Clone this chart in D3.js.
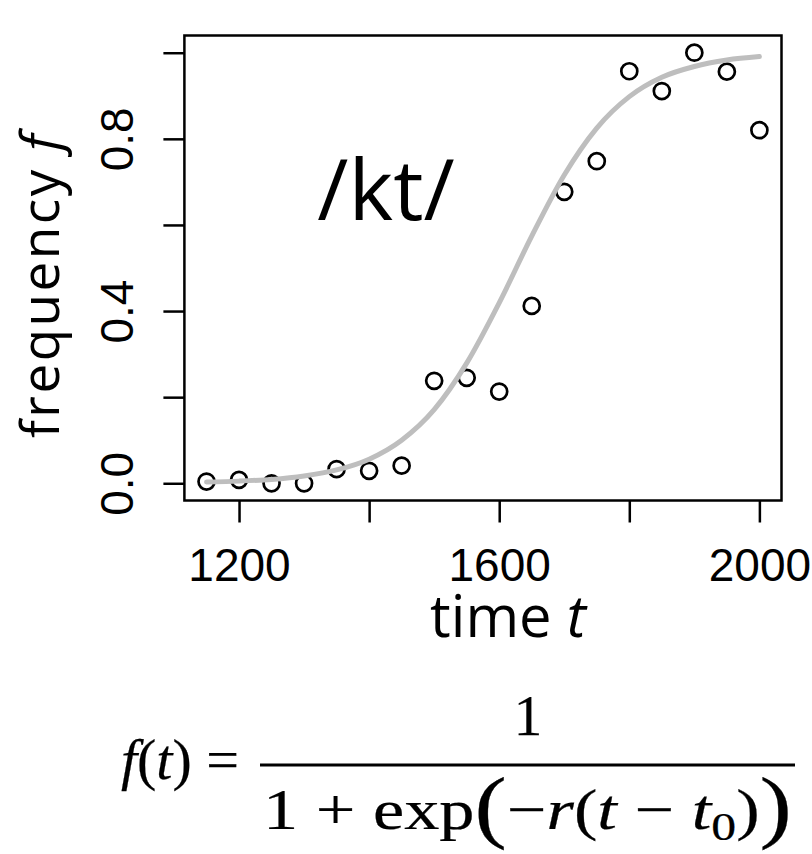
<!DOCTYPE html>
<html>
<head>
<meta charset="utf-8">
<script src="https://cdn.jsdelivr.net/npm/d3@7"></script>
<style>
body { margin: 0; background: #fff; }
svg { display: block; }
.tick text { font-family: "Liberation Sans", Arial, sans-serif; font-size: 46px; fill: #000; }
.tick line { stroke: #000; stroke-width: 2.5; }
.label { font-family: "Open Sans", "Noto Sans", sans-serif; fill: #000; }
.math { font-family: "Liberation Serif", "Times New Roman", serif; fill: #000; stroke: #000; stroke-width: 0.25; }
</style>
</head>
<body>
<svg width="812" height="854"></svg>
<script>
// observed frequency of /kt/ per half century
var years = [1150, 1200, 1250, 1300, 1350, 1400, 1450, 1500, 1550,
             1600, 1650, 1700, 1750, 1800, 1850, 1900, 1950, 2000];
var freq = [0.004, 0.008, 0.0, 0.0, 0.033, 0.029, 0.041, 0.238, 0.245,
            0.213, 0.412, 0.677, 0.748, 0.957, 0.911, 1.0, 0.956, 0.82];

// fitted curve, values
var fitYears = [1150, 1200, 1250, 1300, 1350, 1400, 1450, 1500, 1550,
                1600, 1650, 1700, 1750, 1800, 1850, 1900, 1950, 2000];
var fitFreq = [0.003, 0.005, 0.009, 0.017, 0.031, 0.056, 0.100, 0.171, 0.279,
               0.419, 0.574, 0.716, 0.825, 0.898, 0.943, 0.968, 0.983, 0.991];

var xTicks = [1200, 1400, 1600, 1800, 2000];
var xTickLabels = ['1200', '', '1600', '', '2000'];
var yTicks = [0, 0.2, 0.4, 0.6, 0.8, 1.0];
var yTickLabels = ['0.0', '', '0.4', '', '0.8', ''];

var svg = d3.select('svg');

// R style: 4% padding around the data range
var xScale = d3.scaleLinear()
    .domain([1116, 2034])
    .range([184.4, 781.5]);

var yScale = d3.scaleLinear()
    .domain([-0.04, 1.04])
    .range([500.5, 35.5]);

// axes
var xAxis = svg.append('g')
    .attr('transform', 'translate(0,' + yScale(-0.04) + ')')
    .call(d3.axisBottom(xScale).tickValues(xTicks).tickSize(22).tickSizeOuter(0)
        .tickFormat(function(d, i) { return xTickLabels[i]; }));
xAxis.select('.domain').remove();
xAxis.selectAll('.tick text').attr('y', 80).attr('dy', 0);

var yAxis = svg.append('g')
    .attr('transform', 'translate(' + xScale(1116) + ',0)')
    .call(d3.axisLeft(yScale).tickValues(yTicks).tickSize(21).tickSizeOuter(0)
        .tickFormat(function(d, i) { return yTickLabels[i]; }));
yAxis.select('.domain').remove();
yAxis.selectAll('.tick text')
    .attr('x', 0).attr('dy', 0)
    .attr('text-anchor', 'middle')
    .attr('transform', 'translate(-51,0) rotate(-90)');

// plot box
svg.append('rect')
    .attr('x', xScale(1116))
    .attr('y', yScale(1.04))
    .attr('width', xScale(2034) - xScale(1116))
    .attr('height', yScale(-0.04) - yScale(1.04))
    .style('fill', 'none')
    .style('stroke', '#000')
    .style('stroke-width', 2.5);

// data points
svg.selectAll('.pt')
    .data(years)
    .enter()
    .append('circle')
    .attr('class', 'pt')
    .attr('cx', function(d) { return xScale(d); })
    .attr('cy', function(d, i) { return yScale(freq[i]); })
    .attr('r', 8)
    .style('fill', 'none')
    .style('stroke', '#000')
    .style('stroke-width', 2.7);

// fitted curve drawn over the points
var line = d3.line()
    .x(function(d) { return xScale(d); })
    .y(function(d, i) { return yScale(fitFreq[i]); })
    .curve(d3.curveMonotoneX);

svg.append('path')
    .attr('d', line(fitYears))
    .style('fill', 'none')
    .style('stroke', '#bebebe')
    .style('stroke-width', 5)
    .style('stroke-linecap', 'round');

// labels
svg.append('text')
    .attr('class', 'label')
    .attr('x', 386)
    .attr('y', 220)
    .attr('text-anchor', 'middle')
    .style('font-size', '85px')
    .text('/kt/');

var xl = svg.append('text')
    .attr('class', 'label')
    .attr('x', 508)
    .attr('y', 637)
    .attr('text-anchor', 'middle')
    .style('font-size', '58px');
xl.append('tspan').text('time ');
xl.append('tspan').style('font-style', 'italic').text('t');

var yl = svg.append('text')
    .attr('class', 'label')
    .attr('text-anchor', 'middle')
    .attr('transform', 'translate(59,285) rotate(-90)')
    .style('font-size', '53px')
    .style('letter-spacing', '2.5px');
yl.append('tspan').text('frequency ');
yl.append('tspan').style('font-style', 'italic').text('f');

// formula
var lhs = svg.append('text')
    .attr('class', 'math')
    .attr('x', 239)
    .attr('y', 779)
    .attr('text-anchor', 'end')
    .style('font-size', '58px');
lhs.append('tspan').style('font-style', 'italic').text('f');
lhs.append('tspan').text('(');
lhs.append('tspan').style('font-style', 'italic').text('t');
lhs.append('tspan').text(') =');

svg.append('line')
    .attr('x1', 260).attr('x2', 795)
    .attr('y1', 765).attr('y2', 765)
    .style('stroke', '#000')
    .style('stroke-width', 3);

svg.append('text')
    .attr('class', 'math')
    .attr('x', 528)
    .attr('y', 735)
    .attr('text-anchor', 'middle')
    .style('font-size', '57px')
    .text('1');

var den = svg.append('text')
    .attr('class', 'math')
    .attr('x', 262)
    .attr('y', 829)
    .style('font-size', '58px');
den.append('tspan').text('1 + exp');
den.append('tspan').style('font-size', '80px').attr('dy', 4).text('(');
den.append('tspan').attr('dy', -4).text('\u2212');
den.append('tspan').style('font-style', 'italic').text('r');
den.append('tspan').text('(');
den.append('tspan').style('font-style', 'italic').text('t');
den.append('tspan').text(' \u2212 ');
den.append('tspan').style('font-style', 'italic').text('t');
den.append('tspan').style('font-size', '41px').attr('dy', 11).text('0');
den.append('tspan').attr('dy', -11).text(')');
den.append('tspan').style('font-size', '80px').attr('dy', 4).text(')');

// stretch the denominator to the width of the fraction bar
var bb = den.node().getBBox();
var k = (792 - 263) / bb.width;
den.attr('transform', 'translate(263,0) scale(' + k + ',1) translate(' + (-bb.x) + ',0)');
</script>
</body>
</html>
